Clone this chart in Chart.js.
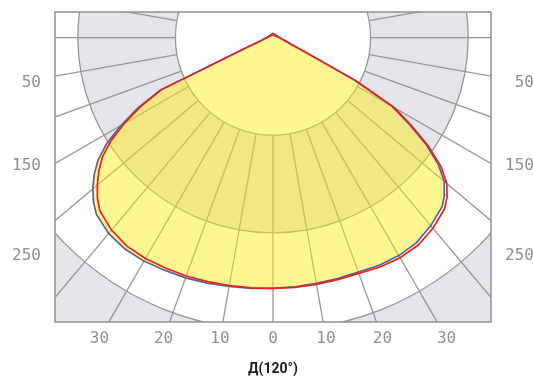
<!DOCTYPE html>
<html>
<head>
<meta charset="utf-8">
<script src="https://cdn.jsdelivr.net/npm/chart.js@4.4.0/dist/chart.umd.min.js"></script>
<style>
  html, body { margin: 0; padding: 0; background: #ffffff; overflow: hidden; }
  #wrap { width: 533px; height: 378px; }
</style>
</head>
<body>
<div id="wrap"><canvas id="c" width="533" height="378"></canvas></div>
<script>
// Gamma angles in degrees (negative = left half-plane, ±180 = straight up)
const angles = [-180, -90, -85, -80, -75, -70, -65, -62.5, -60, -57.5, -55, -52.5, -50, -47.5, -45,
  -40, -35, -30, -25, -20, -15, -10, -5, 0, 5, 10, 15, 20, 25, 30, 35, 40,
  45, 47.5, 50, 52.5, 55, 57.5, 60, 62.5, 65, 70, 75, 80, 85, 90, 180];

// Luminous intensity along each gamma angle, cd/klm
const blueCurve = [2.8, 6.1, 7.5, 9.7, 14, 27, 128, 156, 180, 202, 219, 231, 241, 249.5, 256,
  262, 264.5, 264.5, 263, 262, 260.5, 259, 258, 257, 256.5, 255.8, 255.8, 255.7, 257.5, 258, 256.5, 251.5,
  245, 238.5, 229, 213.5, 192, 166, 141, 94.5, 43, 19.5, 13, 9.5, 7.5, 6.2, 2.8];

const redCurve = [4.5, 6.5, 8, 10, 14, 27, 126, 153, 176, 197, 213.5, 225, 235, 244, 251,
  257.5, 261, 261.5, 260.5, 260, 259, 258, 257.5, 257, 257, 256.8, 256.8, 257.2, 259.5, 260.5, 259.5, 255,
  248.5, 242, 232.5, 217, 195, 169, 144, 97, 45, 21, 14, 10.5, 8.5, 7.2, 4.5];

// Polar grid: ring values and spoke step (degrees)
const ringValues = [100, 200, 300];
const spokeStep = 10;

// Side scale labels and the depth (below the lamp centre) at which each sits
const sideTickLabels = ['50', '150', '250'];
const sideTickDepths = [46.4, 131.4, 223.3];

// Angle labels under the diagram
const angleTickValues = [-30, -20, -10, 0, 10, 20, 30];
const angleTickLabels = ['30', '20', '10', '0', '10', '20', '30'];
const angleLabelDepth = 308;

const axisTitle = 'Д(120°)';

const X_MIN = -223.4, X_MAX = 223.4, Y_MIN = -291.5, Y_MAX = 26.3;

const RAD = Math.PI / 180;
const toXY = (a, r) => ({ x: r * Math.sin(a * RAD), y: -r * Math.cos(a * RAD) });

const GRID_GRAY = 'rgb(150,150,150)';
const BAND_GRAY = 'rgb(228,229,232)';
const TICK_FONT = { family: "'DejaVu Sans Mono', monospace", size: 16 };
const TICK_COLOR = '#8e8e8e';

// Draws the banded polar background, spokes, rings and the frame
const polarGrid = {
  id: 'polarGrid',
  beforeDatasetsDraw(chart) {
    const ctx = chart.ctx;
    const a = chart.chartArea;
    const w = a.right - a.left, h = a.bottom - a.top;
    const kx = w / (X_MAX - X_MIN);
    const ky = h / (Y_MAX - Y_MIN);
    const cx = a.left + (0 - X_MIN) * kx;
    const cy = a.top + (Y_MAX - 0) * ky;
    const k = kx;

    ctx.save();
    ctx.beginPath();
    ctx.rect(a.left, a.top, w, h);
    ctx.clip();

    // bands: outside the outer ring gray, then white / gray / white inwards
    ctx.fillStyle = BAND_GRAY;
    ctx.fillRect(a.left, a.top, w, h);
    const bandFill = ['#ffffff', BAND_GRAY, '#ffffff'];
    for (let i = ringValues.length - 1; i >= 0; i--) {
      ctx.beginPath();
      ctx.arc(cx, cy, ringValues[i] * k, 0, Math.PI * 2);
      ctx.closePath();
      ctx.fillStyle = bandFill[ringValues.length - 1 - i];
      ctx.fill();
    }

    ctx.strokeStyle = GRID_GRAY;
    ctx.lineWidth = 1.3;
    // spokes start at the first ring
    const r0 = ringValues[0] * k;
    const r1 = 1000;
    for (let ang = -180; ang < 180; ang += spokeStep) {
      const s = Math.sin(ang * RAD), c = Math.cos(ang * RAD);
      ctx.beginPath();
      ctx.moveTo(cx + r0 * s, cy + r0 * c);
      ctx.lineTo(cx + r1 * s, cy + r1 * c);
      ctx.stroke();
    }
    for (const rv of ringValues) {
      ctx.beginPath();
      ctx.arc(cx, cy, rv * k, 0, Math.PI * 2);
      ctx.stroke();
    }
    ctx.restore();

    ctx.save();
    ctx.strokeStyle = 'rgb(145,145,145)';
    ctx.lineWidth = 1.5;
    ctx.strokeRect(a.left, a.top, w, h);
    ctx.restore();
  }
};

new Chart(document.getElementById('c'), {
  type: 'scatter',
  data: {
    datasets: [
      {
        label: 'C90–C270',
        data: angles.map((a, i) => toXY(a, redCurve[i])),
        showLine: true,
        borderColor: '#e8221d',
        borderWidth: 1.7,
        pointRadius: 0,
        tension: 0,
        fill: false,
        order: 1
      },
      {
        label: 'C0–C180',
        data: angles.map((a, i) => toXY(a, blueCurve[i])),
        showLine: true,
        borderColor: '#5a6199',
        borderWidth: 1.7,
        pointRadius: 0,
        tension: 0,
        fill: 'shape',
        backgroundColor: 'rgba(255,234,26,0.48)',
        order: 2
      }
    ]
  },
  options: {
    responsive: false,
    devicePixelRatio: 1,
    animation: false,
    layout: { padding: { top: 12, left: 0, right: -1, bottom: 0 } },
    plugins: {
      legend: { display: false },
      tooltip: { enabled: false }
    },
    scales: {
      x: {
        type: 'linear',
        position: 'bottom',
        min: X_MIN,
        max: X_MAX,
        grid: { display: false, drawTicks: false },
        border: { display: false },
        afterBuildTicks: s => {
          s.ticks = angleTickValues.map(a => ({ value: angleLabelDepth * Math.tan(a * RAD) }));
        },
        afterFit: s => { s.height = 56; s.paddingLeft = 0; s.paddingRight = 0; },
        ticks: {
          callback: (v, i) => angleTickLabels[i],
          font: TICK_FONT,
          color: TICK_COLOR,
          padding: 7,
          maxRotation: 0,
          autoSkip: false
        },
        title: {
          display: true,
          text: axisTitle,
          color: '#1c1c1c',
          font: { family: 'Roboto', weight: 'bold', size: 14 },
          padding: { top: 0, bottom: 0 }
        }
      },
      y: {
        type: 'linear',
        position: 'left',
        min: Y_MIN,
        max: Y_MAX,
        grid: { display: false, drawTicks: false },
        border: { display: false },
        afterBuildTicks: s => {
          s.ticks = sideTickDepths.map(d => ({ value: -d }));
        },
        afterFit: s => { s.width = 55; s.paddingTop = 0; s.paddingBottom = 0; },
        ticks: {
          callback: (v, i) => sideTickLabels[i],
          font: TICK_FONT,
          color: TICK_COLOR,
          padding: 14,
          autoSkip: false
        }
      },
      y2: {
        type: 'linear',
        position: 'right',
        min: Y_MIN,
        max: Y_MAX,
        grid: { display: false, drawTicks: false },
        border: { display: false },
        afterBuildTicks: s => {
          s.ticks = sideTickDepths.map(d => ({ value: -d }));
        },
        afterFit: s => { s.width = 43; s.paddingTop = 0; s.paddingBottom = 0; },
        ticks: {
          callback: (v, i) => sideTickLabels[i],
          font: TICK_FONT,
          color: TICK_COLOR,
          crossAlign: 'far',
          autoSkip: false
        }
      }
    }
  },
  plugins: [polarGrid]
});
</script>
</body>
</html>
